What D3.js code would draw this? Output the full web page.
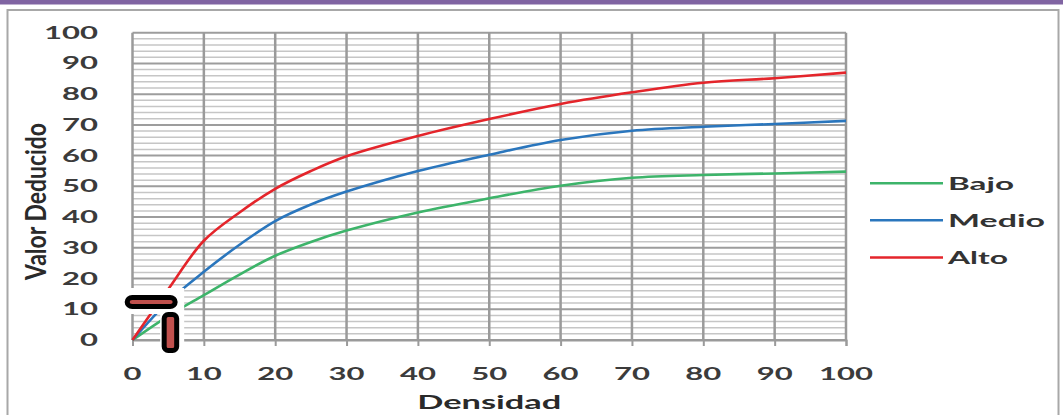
<!DOCTYPE html>
<html>
<head>
<meta charset="utf-8">
<script src="https://cdn.jsdelivr.net/npm/d3@7"></script>
<style>
  html, body { margin: 0; padding: 0; background: #fff; }
  svg { display: block; }
  text { font-family: Lato, "DejaVu Sans", sans-serif; }
</style>
</head>
<body>
<svg id="chart" width="1063" height="415"></svg>
<script>
// Deduct-value curves by density and severity level
const densidad = [0, 5, 10, 15, 20, 25, 30, 40, 50, 60, 70, 80, 90, 100];
const bajo  = [0, 7.8, 14.6, 21.3, 27.4, 31.9, 35.6, 41.5, 46.1, 50.2, 52.8, 53.7, 54.2, 54.8];
const medio = [0, 12.5, 22.2, 31.0, 38.7, 44.1, 48.3, 55.0, 60.3, 65.1, 68.1, 69.4, 70.3, 71.3];
const alto  = [0, 16.5, 32.3, 41.5, 49.2, 55.0, 59.8, 66.4, 71.9, 76.8, 80.6, 83.7, 85.2, 87.0];

const seriesNames = ["Bajo", "Medio", "Alto"];
const seriesValues = [bajo, medio, alto];
const seriesColors = ["#3db46a", "#2a76bd", "#e4252b"];

const xTicks = [0, 10, 20, 30, 40, 50, 60, 70, 80, 90, 100];
const yTicks = [0, 10, 20, 30, 40, 50, 60, 70, 80, 90, 100];
const yMinorStep = 2;

const xTitle = "Densidad";
const yTitle = "Valor Deducido";

const svg = d3.select("#chart");

// frame: purple band and grey border
svg.append("rect").attr("x", 0).attr("y", 0).attr("width", 1063).attr("height", 4.5)
  .attr("fill", "#8064a2");
svg.append("rect").attr("x", 7.5).attr("y", 10).attr("width", 1051).attr("height", 420)
  .attr("fill", "#fff").attr("stroke", "#a8a8a8").attr("stroke-width", 2);

const x = d3.scaleLinear().domain([0, 100]).range([132.5, 846]);
const y = d3.scaleLinear().domain([0, 100]).range([340, 32.7]);

const grid = svg.append("g");

// minor horizontal grid lines
const minor = d3.range(0, 100 + 1e-9, yMinorStep).filter(v => v % 10 !== 0);
grid.selectAll("line.minor").data(minor).join("line")
  .attr("class", "minor")
  .attr("x1", x(0)).attr("x2", x(100))
  .attr("y1", d => y(d)).attr("y2", d => y(d))
  .attr("stroke", "#c6c6c6").attr("stroke-width", 1.5);

// major horizontal grid lines
grid.selectAll("line.hmajor").data(yTicks).join("line")
  .attr("class", "hmajor")
  .attr("x1", x(0)).attr("x2", x(100))
  .attr("y1", d => y(d)).attr("y2", d => y(d))
  .attr("stroke", "#9d9d9d").attr("stroke-width", 2);

// vertical grid lines
grid.selectAll("line.vmajor").data(xTicks).join("line")
  .attr("class", "vmajor")
  .attr("x1", d => x(d)).attr("x2", d => x(d))
  .attr("y1", y(100)).attr("y2", y(0))
  .attr("stroke", "#9a9a9a").attr("stroke-width", 2.5);

// x axis with tick marks below the plot
const xAxis = d3.axisBottom(x).tickValues(xTicks).tickSize(6).tickFormat("");
const xg = svg.append("g").attr("transform", `translate(0,${y(0)})`).call(xAxis);
xg.select(".domain").attr("stroke", "#9a9a9a").attr("stroke-width", 2);
xg.selectAll(".tick line").attr("stroke", "#9a9a9a").attr("stroke-width", 2);

const labels = svg.append("g");

// tick labels (wide, stretched digits)
xTicks.forEach(v => {
  const s = String(v);
  labels.append("text")
    .attr("x", x(v)).attr("y", 379.5)
    .attr("text-anchor", "middle")
    .attr("font-size", 16.5).attr("font-weight", "bold").attr("fill", "#3b3b3b")
    .attr("textLength", 18 * s.length).attr("lengthAdjust", "spacingAndGlyphs")
    .text(s);
});
yTicks.forEach(v => {
  const s = String(v);
  labels.append("text")
    .attr("x", 98).attr("y", y(v) + 6)
    .attr("text-anchor", "end")
    .attr("font-size", 16.5).attr("font-weight", "bold").attr("fill", "#3b3b3b")
    .attr("textLength", 18 * s.length).attr("lengthAdjust", "spacingAndGlyphs")
    .text(s);
});

// axis titles
labels.append("text")
  .attr("x", (x(0) + x(100)) / 2).attr("y", 409)
  .attr("text-anchor", "middle")
  .attr("font-size", 18).attr("font-weight", "bold").attr("fill", "#2a2a2a")
  .attr("textLength", 144).attr("lengthAdjust", "spacingAndGlyphs")
  .text(xTitle);

labels.append("text")
  .attr("transform", `translate(46,201.5) scale(1.75,1) rotate(-90)`)
  .attr("text-anchor", "middle")
  .attr("font-size", 16).attr("font-weight", "bold").attr("fill", "#2a2a2a")
  .attr("textLength", 157).attr("lengthAdjust", "spacingAndGlyphs")
  .text(yTitle);

// series lines (smoothed)
const line = d3.line()
  .x((d, i) => x(densidad[i]))
  .y(d => y(d))
  .curve(d3.curveCatmullRom.alpha(0.5));

svg.append("g").selectAll("path").data(seriesValues).join("path")
  .attr("d", d => line(d))
  .attr("fill", "none")
  .attr("stroke", (d, i) => seriesColors[i])
  .attr("stroke-width", 2.6)
  .attr("stroke-linejoin", "round");

// legend
const legendY = [183.3, 220.3, 257.5];
const legendTextLen = [66, 97, 60];
const legend = svg.append("g");
seriesNames.forEach((name, i) => {
  legend.append("line")
    .attr("x1", 870).attr("x2", 943)
    .attr("y1", legendY[i]).attr("y2", legendY[i])
    .attr("stroke", seriesColors[i]).attr("stroke-width", 2.4);
  legend.append("text")
    .attr("x", 948).attr("y", legendY[i] + 6.3)
    .attr("font-size", 16.5).attr("font-weight", "bold").attr("fill", "#333")
    .attr("textLength", legendTextLen[i]).attr("lengthAdjust", "spacingAndGlyphs")
    .text(name);
});

// "T" marker near the origin of the curves
const mx = x(5), my = y(0);
const marker = svg.append("g");
marker.append("rect").attr("x", mx - 45).attr("y", my - 52).attr("width", 61).attr("height", 26).attr("fill", "#fff");
marker.append("rect").attr("x", mx - 8).attr("y", my - 30).attr("width", 24).attr("height", 45).attr("fill", "#fff");
marker.append("rect").attr("x", mx - 41).attr("y", my - 42.5).attr("width", 48).attr("height", 9)
  .attr("rx", 5).attr("fill", "#c0504d").attr("stroke", "#000").attr("stroke-width", 5);
marker.append("rect").attr("x", mx - 4).attr("y", my - 25.5).attr("width", 12.5).attr("height", 36)
  .attr("rx", 4).attr("fill", "#c0504d").attr("stroke", "#000").attr("stroke-width", 5);
</script>
</body>
</html>
